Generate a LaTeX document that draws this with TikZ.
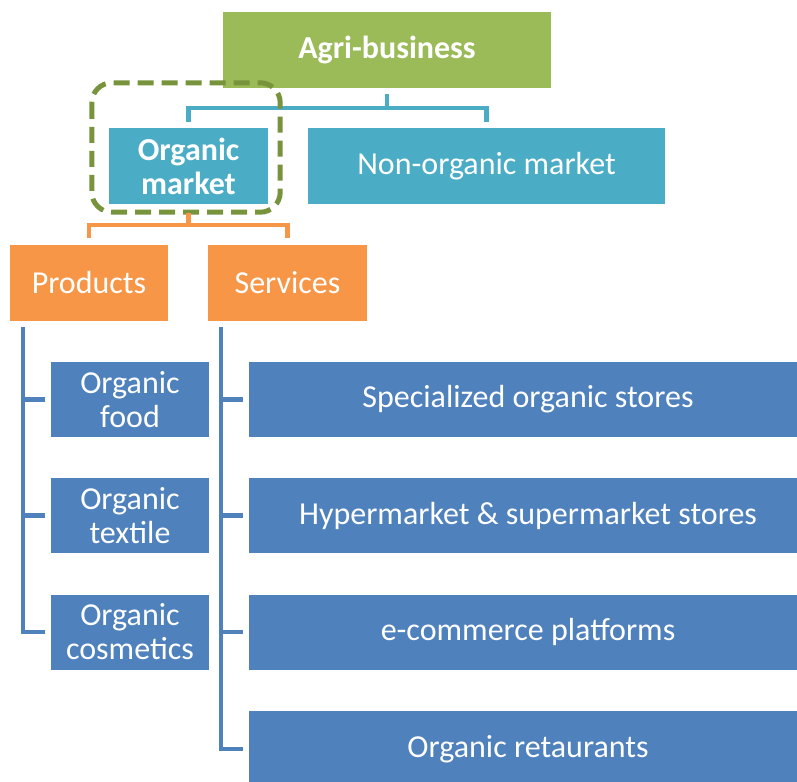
\documentclass[tikz,border=0pt]{standalone}
\usepackage{fontspec}
\setmainfont{Carlito}
\usepackage{xcolor}
\usepackage{tikz}

\definecolor{agrigreen}{HTML}{9BBB59}
\definecolor{marketteal}{HTML}{4BACC6}
\definecolor{splitorange}{HTML}{F79646}
\definecolor{itemblue}{HTML}{4F81BD}
\definecolor{frameolive}{HTML}{77933C}

\begin{document}
\begin{tikzpicture}[x=1pt, y=-1pt,
    box/.style={minimum height=76pt, inner sep=0pt, text=white, align=center, font=\fontsize{32}{34}\selectfont},
    boldbox/.style={box, font=\fontsize{32}{34}\selectfont\bfseries},
    link/.style={line width=4.5pt, line join=miter}]
            \useasboundingbox (0,0) rectangle (797,781);
            \clip (0,0) rectangle (797,781);
            % Top
            \node[boldbox, fill=agrigreen, minimum width=328pt] (agri) at (387,50) {Agri-business};
            % Markets
            \node[boldbox, fill=marketteal, minimum width=159pt] (org) at (188.5,166) {Organic\\market};
            \node[box, fill=marketteal, minimum width=357pt] (nonorg) at (486.5,166) {Non-organic market};
            \draw[link, marketteal] ([yshift=-6pt]agri.south) -- ++(0,-14pt) coordinate (mkt);
            \draw[link, marketteal] ([yshift=6pt]org.north) |- (mkt) -| ([yshift=6pt]nonorg.north);
            % Focus frame
            \draw[frameolive, line width=5pt, dash pattern=on 16pt off 8pt, rounded corners=20pt]
                ([shift={(-17pt,45pt)}]org.north west) rectangle ([shift={(12pt,-8pt)}]org.south east);
            % Products and services
            \node[box, fill=splitorange, minimum width=158pt] (prod) at (89,283) {Products};
            \node[box, fill=splitorange, minimum width=159pt] (serv) at (287.5,283) {Services};
            \draw[link, splitorange] ([yshift=-9pt]org.south) -- ++(0,-12pt) coordinate (split);
            \draw[link, splitorange] ([yshift=7pt]prod.north) |- (split) -| ([yshift=7pt]serv.north);
            % Product items
            \node[box, fill=itemblue, minimum width=158pt, minimum height=75pt] (food) at (130,399.5) {Organic\\food};
            \node[box, fill=itemblue, minimum width=158pt, minimum height=75pt] (textile) at (130,515.5) {Organic\\textile};
            \node[box, fill=itemblue, minimum width=158pt, minimum height=75pt] (cosm) at (130,632) {Organic\\cosmetics};
            \draw[link, itemblue] ([xshift=13pt,yshift=-6pt]prod.south west) coordinate (ptrunk) |- ([xshift=-6pt]cosm.west);
            \foreach \n in {food,textile}
                \draw[link, itemblue] (ptrunk |- \n.west) -- ([xshift=-6pt]\n.west);
            % Service items
            \node[box, fill=itemblue, minimum width=558pt, minimum height=75pt] (stores) at (528,399.5) {Specialized organic stores};
            \node[box, fill=itemblue, minimum width=558pt, minimum height=75pt] (hyper) at (528,515.5) {Hypermarket \& supermarket stores};
            \node[box, fill=itemblue, minimum width=558pt, minimum height=75pt] (ecom) at (528,632) {e-commerce platforms};
            \node[box, fill=itemblue, minimum width=558pt, minimum height=76pt] (resto) at (528,749) {Organic retaurants};
            \draw[link, itemblue] ([xshift=13pt,yshift=-6pt]serv.south west) coordinate (strunk) |- ([xshift=-6pt]resto.west);
            \foreach \n in {stores,hyper,ecom}
                \draw[link, itemblue] (strunk |- \n.west) -- ([xshift=-6pt]\n.west);
        \end{tikzpicture}
\end{document}
